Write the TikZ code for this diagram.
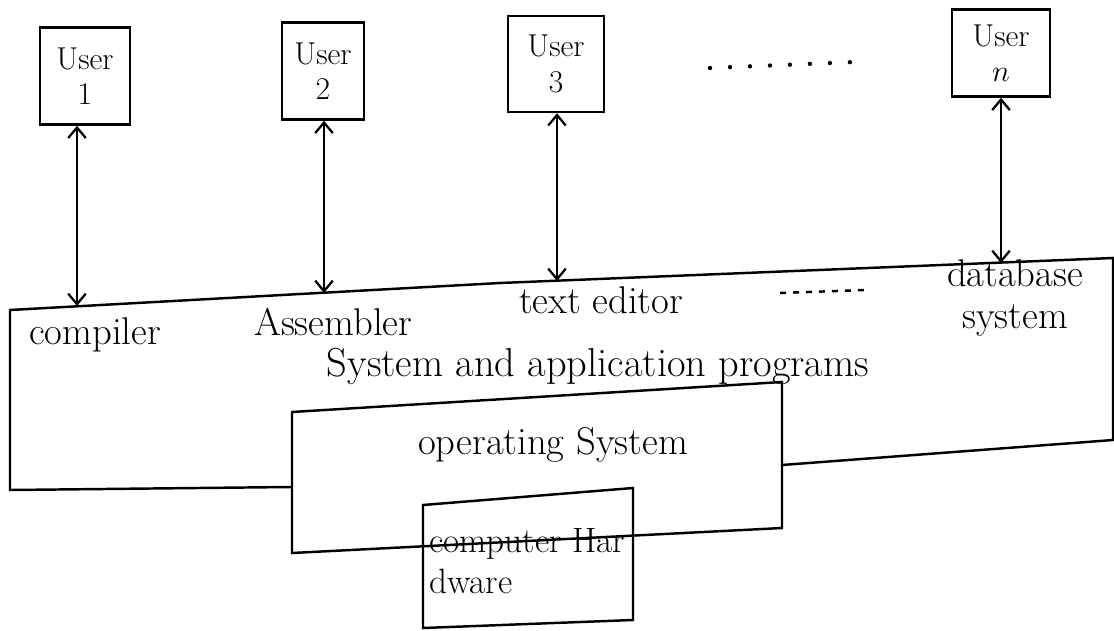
\documentclass[tikz,border=0pt]{standalone}
\usepackage{fontspec}
\usetikzlibrary{arrows.meta}
\tikzset{
  userbox/.style={draw, line width=1.4pt, align=center, inner sep=0pt, font=\fontsize{18}{20}\selectfont},
  hand/.style={font=\fontsize{22}{24}\selectfont, inner sep=0pt},
  link/.style={line width=1.3pt, {Straight Barb[length=6pt,width=10pt]}-{Straight Barb[length=6pt,width=10pt]}}
}
\begin{document}
\begin{tikzpicture}[x=0.02cm, y=-0.02cm, line width=1.4pt]
\useasboundingbox (0,0) rectangle (1114,631);
\node[userbox, minimum width=1.8cm, minimum height=1.94cm] (user1) at (85,76) {User\\1};
\node[userbox, minimum width=1.64cm, minimum height=1.94cm] (user2) at (323,71) {User\\2};
\node[userbox, minimum width=1.92cm, minimum height=1.92cm] (user3) at (556,64) {User\\3};
\node[userbox, minimum width=1.96cm, minimum height=1.74cm] (usern) at (1001,53) {User\\$n$};
\draw[line width=2.5pt, line cap=round, dash pattern=on 0pt off 0.4cm] (710,68) -- (855,62);
\draw (10,310) -- (500,283) -- (1113,258) -- (1113,440) -- (782,465) -- (292,487) -- (10,490) -- cycle;
\coordinate (top1) at (77,306);
\coordinate (top2) at (324,293);
\coordinate (top3) at (557,281);
\coordinate (topn) at (1001,263);
\draw[link] (user1.south -| top1) -- (top1);
\draw[link] (user2.south -| top2) -- (top2);
\draw[link] (user3.south -| top3) -- (top3);
\draw[link] (usern.south -| topn) -- (topn);
\draw[fill=white] (292,412) -- (782,382) -- (782,528) -- (292,553) -- cycle;
\draw (423,505) -- (633,488) -- (633,620) -- (423,628) -- cycle;
\node[hand, anchor=west] (compiler) at (28,335) {compiler};
\node[hand, anchor=west] (assembler) at (253,322) {Assembler};
\node[hand, anchor=west] (editor) at (518,300) {text editor};
\draw[dash pattern=on 0.12cm off 0.14cm] (780,293) -- (865,290);
\node[hand, align=center] (database) at (1015,298) {database\\system};
\node[hand, font=\fontsize{23}{25}\selectfont] (apps) at (598,366) {System and application programs};
\node[hand] (os) at (553,445) {operating System};
\node[hand, font=\fontsize{20}{23}\selectfont, align=left, anchor=west] (hw) at (428,561) {computer Har\\dware};
\end{tikzpicture}
\end{document}
